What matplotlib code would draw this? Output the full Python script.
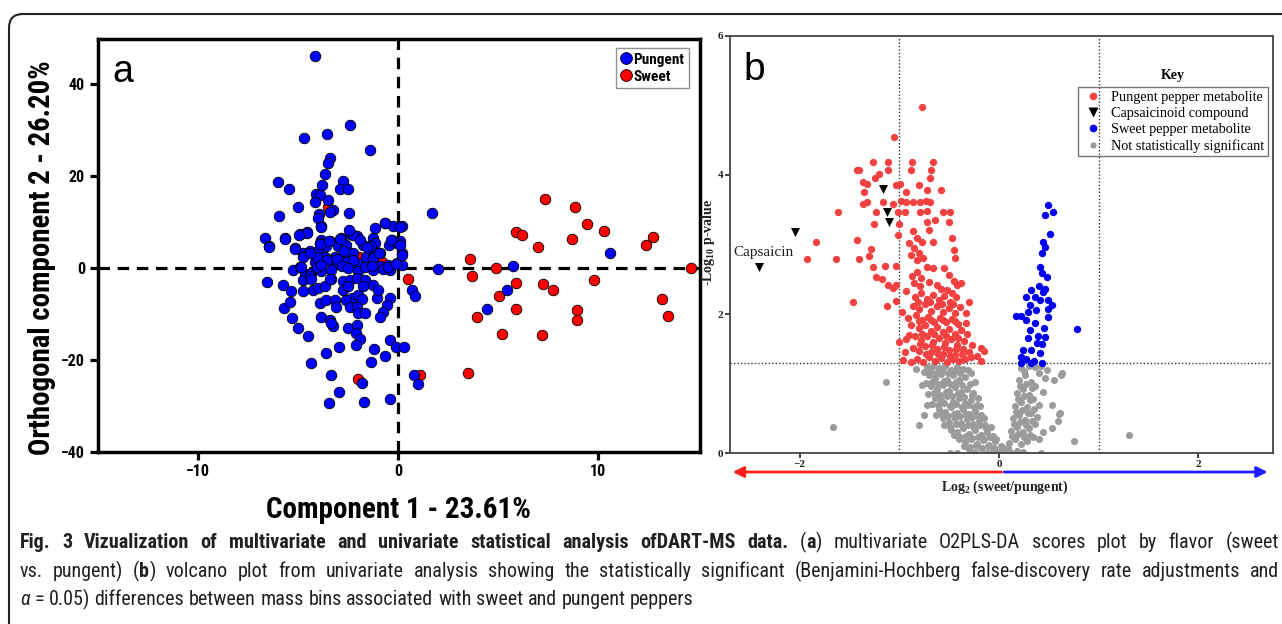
import matplotlib
matplotlib.use("Agg")
import matplotlib.pyplot as plt
from matplotlib import font_manager
from matplotlib.font_manager import FontProperties
from matplotlib.lines import Line2D
from matplotlib.patches import FancyBboxPatch
from matplotlib.transforms import IdentityTransform

# ---------------- panel a: O2PLS-DA scores ----------------
pungent_x = [-4.19, -2.43, -3.57, -4.74, -1.42, -3.43, -3.52, -3.68, -6.0, -5.47, -2.76, -2.93, -2.51,
             -3.80, -4.10, -3.90, -3.52, -4.19, -5.02, -3.26, -3.43, -5.97, -3.97, -2.48, 1.68,
             -0.67, -0.25, 0.17, -3.85, -1.17, -4.94, -4.57, -6.65, -5.69, -3.85, -3.43, -2.85, -2.43,
             -2.09, -1.25, -0.33, 0.09, -6.45, -5.19, -3.93, -3.60, -3.01, -2.60, -1.76, -1.42, -1.17,
             -0.45, -0.08, -4.77, -4.44, -4.02, -3.68, -3.18, -2.77, -2.26, -1.62, -1.34, -1.12, -0.92,
             0.17, -4.18, -3.85, -3.43, -3.01, -2.60, -2.09, -1.34, -0.92, -0.50, -0.08, 0.17, -5.28,
             -4.94, -4.69, -4.35, -3.85, -3.35, -2.00, -1.67, -1.25, -0.75, -0.42, 2.0, -4.77, -4.44,
             -3.35, -2.77, -2.43, -2.09, -1.67, -1.25, -1.75, -6.58, -5.78, -5.36, -4.77, -4.27, -4.02,
             -3.68, -2.77, -2.51, -2.34, -2.00, -1.84, -1.08, -1.00, -0.42, -3.93, -3.63, -3.18, -3.10,
             -2.60, -2.43, -2.09, -2.00, -1.67, -0.59, -0.75, -0.92, -5.74, -5.31, -3.85, -3.43, -3.26,
             -3.35, -5.02, -4.52, -2.51, -2.09, -2.13, -1.93, -0.42, -0.12, 0.29, -2.13, -2.99, -3.63,
             -1.21, -0.67, -1.38, -4.39, -3.35, -1.84, 0.80, 1.0, -2.96, -3.46, -1.72, -0.42, 0.67,
             0.84, 4.45, 5.44, 5.72, 10.56, -5.40, -4.36, -3.40, -4.09, -3.58, -3.05, -2.25, -1.29,
             -2.82, -2.53, -1.33, -0.53, -0.11, -4.89, -4.09, -3.86, -2.71, -4.78, -4.43, -3.90, -3.49,
             -2.25, -2.94, -1.91, -1.38, -0.37, 0.09, -0.99, 0.16, -1.56, -0.69, 0.09, -2.48, -4.02,
             -3.86, -4.59, -4.96, -5.69, -6.45, -5.17]
pungent_y = [46.2, 31.2, 29.1, 28.2, 25.7, 24.0, 22.9, 20.4, 18.8, 17.3, 19.0, 17.3, 17.3,
             18.0, 16.2, 15.8, 14.9, 14.3, 13.3, 12.7, 12.1, 11.3, 11.8, 12.0, 12.0,
             9.8, 9.1, 9.1, 9.1, 8.7, 7.3, 7.8, 6.5, 6.5, 6.2, 5.8, 6.5, 7.3,
             6.9, 6.5, 6.2, 5.8, 4.7, 4.4, 5.4, 4.7, 4.7, 5.1, 5.1, 4.7, 5.4,
             5.1, 5.4, 3.3, 3.6, 3.6, 2.5, 2.5, 2.2, 3.3, 2.5, 3.6, 3.3, 3.3,
             3.3, 1.4, 1.1, 1.8, 1.1, 1.4, 1.1, 0.7, 0.4, 0.7, 1.1, 0.7, -0.5,
             0.2, -1.3, -1.0, -0.7, -0.4, -0.7, 0.2, -0.4, -0.2, -0.4, -0.2, -2.6, -1.8,
             -2.4, -2.9, -2.7, -2.2, -2.6, -3.6, -4.0, -3.1, -3.6, -5.1, -5.1, -4.7, -4.4,
             -4.0, -4.7, -4.0, -6.6, -5.8, -6.8, -6.6, -4.7, -6.6, -7.6, -6.9, -6.9, -8.4,
             -6.9, -8.4, -8.4, -9.8, -9.8, -8.0, -9.5, -10.6, -8.7, -10.8, -10.7, -11.3, -12.7,
             -12.0, -13.1, -14.8, -13.1, -12.4, -14.2, -15.5, -15.6, -17.1, -17.1, -16.7, -17.1, -18.4,
             -17.7, -19.2, -20.5, -20.6, -23.3, -25.1, -23.4, -25.3, -26.9, -29.3, -29.1, -28.6, -4.7,
             -6.0, -8.9, -4.7, 0.4, 3.3, -7.4, -2.3, -2.3, 2.4, 1.7, 2.0, 1.8, 2.2,
             0.4, -0.1, 0.4, 0.2, 0.9, 0.2, 0.2, 0.7, 3.7, 2.5, 3.3, 5.2, 5.9,
             7.1, 6.3, 6.0, 4.7, 6.0, 5.1, 3.3, 2.9, 4.6, 9.7, 8.9, 8.2, 10.8,
             8.9, 7.7, 7.1, 6.3, 4.6, 4.2]
sweet_x = [14.63, 3.56, 3.67, 4.87, 5.03, 3.95, 5.17, 3.49, 5.86, 6.2, 5.9, 5.9, 6.98, 7.32, 7.23,
           7.74, 7.16, 8.84, 9.41, 8.68, 10.29, 9.76, 8.91, 8.91, 12.38, 12.74, 13.2, 13.48, 0.46,
           1.1, -2.02, -1.95, -3.54, -0.83]
sweet_y = [0.0, 2.0, -1.7, 0.0, -6.1, -10.7, -14.3, -22.8, 7.9, 7.1, -3.3, -8.9, 4.6, 15.1, -3.4,
           -4.7, -14.5, 13.2, 9.5, 6.4, 8.0, -2.7, -9.1, -11.4, 4.9, 6.8, -6.7, -10.4, -2.5,
           -23.3, -24.1, 2.4, 13.3, 1.3]

# ---------------- panel b: volcano plot ----------------
pungent_met_x = [-0.775, -1.05, -1.26, -1.11, -0.876, -0.663, -1.43, -1.41, -1.20, -1.11, -0.88, -0.68,
                 -0.69, -1.24, -1.37, -1.32, -1.036, -0.995, -0.80, -1.36, -0.93, -0.72, -0.58, -1.37,
                 -1.32, -1.16, -1.06, -0.98, -0.93, -0.86, -0.79, -0.73, -0.69, -1.23, -1.01, -0.94,
                 -0.79, -0.72, -0.56, -0.49, -1.62, -1.25, -1.00, -0.72, -0.64, -0.70, -0.50, -1.43,
                 -1.84, -1.01, -0.86, -0.82, -0.77, -0.66, -0.47,
                 -1.64, -1.41, -1.28, -1.30, -1.26, -1.14, -1.03, -1.23, -1.17, -1.11, -1.06, -1.03,
                 -0.93, -1.47, -1.12, -1.03, -0.97, -1.00, -0.93, -0.96, -1.93,
                 -0.90, -0.85, -0.80, -0.76, -0.88, -0.82, -0.45, -0.44, -0.72, -0.66, -0.82, -0.78,
                 -0.70, -0.55, -0.50, -0.45, -0.42, -0.38, -0.52, -0.47, -0.30, -0.33, -0.33, -0.18,
                 -0.15, -0.18, -0.35, -0.28, -0.87, -0.85, -0.79, -0.62, -0.58,
                 -0.84, -0.78, -0.72, -0.66, -0.60, -0.55, -0.49, -0.43,
                 -0.86, -0.80, -0.74, -0.68, -0.62, -0.56, -0.50, -0.44, -0.39,
                 -0.83, -0.77, -0.71, -0.65, -0.59, -0.53, -0.47, -0.41,
                 -0.88, -0.80, -0.74, -0.68, -0.62, -0.56, -0.50, -0.44, -0.38,
                 -0.84, -0.78, -0.72, -0.66, -0.60, -0.54, -0.48, -0.42, -0.36,
                 -0.86, -0.80, -0.74, -0.68, -0.62, -0.56, -0.50, -0.44, -0.30,
                 -0.82, -0.76, -0.70, -0.64, -0.58, -0.52, -0.46, -0.40, -0.34, -0.22, -0.88,
                 -0.81, -0.69, -0.57, -0.46, -0.80, -0.68, -0.56, -0.44, -0.77, -0.65, -0.53, -0.41,
                 -0.79, -0.67, -0.55, -0.43, -0.73, -0.61, -0.49, -0.37, -0.94, -0.90, -0.91, -0.27, -0.32]
pungent_met_y = [4.97, 4.55, 4.18, 4.18, 4.18, 4.18, 4.07, 4.07, 4.02, 4.07, 4.07, 4.07,
                 3.96, 3.96, 3.90, 3.87, 3.85, 3.87, 3.85, 3.76, 3.75, 3.78, 3.78, 3.58,
                 3.61, 3.61, 3.58, 3.62, 3.61, 3.61, 3.61, 3.62, 3.61, 3.46, 3.46, 3.46,
                 3.47, 3.48, 3.46, 3.46, 3.47, 3.29, 3.29, 3.33, 3.35, 3.21, 3.33, 3.07,
                 3.04, 3.14, 3.19, 3.09, 3.04, 3.04, 3.09,
                 2.79, 2.79, 2.93, 2.84, 2.67, 2.69, 2.69, 2.54, 2.51, 2.42, 2.37, 2.42,
                 2.33, 2.18, 2.11, 2.19, 2.03, 1.60, 1.64, 1.34, 2.79,
                 3.02, 2.95, 2.88, 2.80, 2.85, 2.78, 2.92, 2.80, 2.68, 2.66, 2.60, 2.52,
                 2.46, 2.66, 2.56, 2.48, 2.42, 2.44, 2.34, 2.30, 2.18, 2.02, 1.87, 1.51,
                 1.47, 1.33, 1.61, 1.39, 2.55, 2.45, 2.40, 2.42, 2.36,
                 2.25, 2.30, 2.22, 2.28, 2.20, 2.26, 2.18, 2.24,
                 2.12, 2.08, 2.14, 2.05, 2.11, 2.03, 2.09, 2.01, 2.10,
                 1.98, 1.92, 1.96, 1.89, 1.95, 1.88, 1.93, 1.86,
                 1.85, 1.80, 1.84, 1.76, 1.81, 1.74, 1.79, 1.72, 1.77,
                 1.68, 1.63, 1.69, 1.60, 1.66, 1.58, 1.64, 1.56, 1.50,
                 1.52, 1.47, 1.54, 1.45, 1.50, 1.43, 1.49, 1.41, 1.45,
                 1.36, 1.31, 1.38, 1.32, 1.37, 1.31, 1.35, 1.32, 1.36, 1.40, 1.31,
                 2.18, 2.17, 2.14, 2.15, 1.90, 1.92, 1.91, 1.90, 1.72, 1.71, 1.69, 1.66,
                 1.57, 1.55, 1.53, 1.50, 1.43, 1.42, 1.40, 1.42, 1.45, 1.70, 1.95, 1.55, 1.72]
capsaicinoid_x = [-1.165, -1.12, -1.10, -2.05, -2.41]
capsaicinoid_y = [3.80, 3.47, 3.32, 3.18, 2.67]
sweet_met_x = [0.494, 0.46, 0.545, 0.51, 0.44, 0.46, 0.43, 0.41, 0.43, 0.48, 0.325, 0.46, 0.27, 0.36,
               0.41, 0.49, 0.53, 0.31, 0.376, 0.29, 0.17, 0.22, 0.49, 0.78, 0.36, 0.31, 0.39, 0.46,
               0.29, 0.38, 0.43, 0.24, 0.325, 0.41, 0.22, 0.27, 0.22, 0.325, 0.43, 0.49, 0.44,
               0.35, 0.27, 0.40, 0.45]
sweet_met_y = [3.57, 3.42, 3.46, 3.15, 3.04, 2.97, 2.88, 2.67, 2.59, 2.53, 2.35, 2.36, 2.25, 2.24,
               2.20, 2.20, 2.13, 2.13, 2.06, 2.03, 1.97, 1.97, 1.96, 1.78, 1.87, 1.77, 1.68, 1.67,
               1.65, 1.58, 1.57, 1.49, 1.48, 1.44, 1.39, 1.36, 1.30, 1.30, 1.30, 2.08, 2.32,
               1.33, 1.92, 2.40, 1.80]
not_sig_x = [-1.67, 1.30, 0.75, -1.135, -0.80, -0.75, 0.63, 0.61, 0.59, -0.83, -0.72, -0.77, 0.53,
             0.60, 0.53, 0.42, -0.49, -0.42, 0.55, 0.62,
             -0.72, -0.66, -0.60, -0.54, -0.48, -0.42, -0.36,
             -0.70, -0.64, -0.58, -0.52, -0.46, -0.40, -0.34, -0.28, -0.24,
             -0.68, -0.62, -0.56, -0.50, -0.44, -0.38, -0.32, -0.26,
             -0.64, -0.58, -0.52, -0.46, -0.40, -0.34, -0.28, -0.22,
             -0.60, -0.54, -0.48, -0.42, -0.36, -0.30, -0.24, -0.18,
             -0.56, -0.50, -0.44, -0.38, -0.32, -0.26, -0.20, -0.14,
             -0.48, -0.42, -0.36, -0.30, -0.24, -0.18, -0.12, -0.06,
             -0.40, -0.34, -0.28, -0.22, -0.16, -0.10, -0.04, 0.02,
             -0.30, -0.24, -0.18, -0.12, -0.06, 0.00, 0.06, 0.12, 0.18, 0.24,
             0.10, 0.16, 0.22, 0.28, 0.34, 0.40,
             0.12, 0.18, 0.24, 0.30, 0.36, 0.44,
             0.14, 0.20, 0.26, 0.32, 0.38,
             0.16, 0.22, 0.28, 0.34, 0.40,
             0.18, 0.24, 0.30, 0.36, 0.44,
             0.20, 0.26, 0.32, 0.40, 0.46, 0.22, 0.36, 0.48,
             -0.75, -0.69, -0.63, -0.57, -0.51, -0.45, -0.39, -0.31,
             -0.73, -0.67, -0.61, -0.55, -0.49, -0.43, -0.37, -0.29,
             -0.71, -0.65, -0.59, -0.53, -0.47, -0.41, -0.35, -0.27, -0.21,
             -0.67, -0.61, -0.55, -0.49, -0.43, -0.37, -0.31, -0.25, -0.19,
             -0.63, -0.57, -0.51, -0.45, -0.39, -0.33, -0.27, -0.21, -0.15,
             -0.55, -0.49, -0.43, -0.37, -0.31, -0.25, -0.19, -0.13, -0.08,
             -0.45, -0.39, -0.33, -0.27, -0.21, -0.15, -0.09, -0.03,
             -0.35, -0.29, -0.23, -0.17, -0.11, -0.05, 0.03, 0.09,
             0.13, 0.19, 0.25, 0.31, 0.15, 0.21, 0.27, 0.33, 0.17, 0.23, 0.29, 0.35,
             0.19, 0.25, 0.31, 0.21, 0.27, 0.33, 0.25, 0.30, 0.42]
not_sig_y = [0.38, 0.26, 0.18, 1.03, 0.41, 0.55, 1.16, 0.58, 0.46, 1.21, 0.69, 0.98, 0.69,
             0.56, 0.36, 0.0, 0.0, 0.0, 1.05, 1.13,
             1.24, 1.26, 1.22, 1.25, 1.20, 1.24, 1.21,
             1.12, 1.08, 1.14, 1.06, 1.12, 1.05, 1.10, 1.15, 1.02,
             0.96, 0.92, 0.98, 0.90, 0.95, 0.88, 0.93, 0.86,
             0.80, 0.76, 0.82, 0.74, 0.79, 0.72, 0.77, 0.70,
             0.64, 0.60, 0.66, 0.58, 0.63, 0.56, 0.61, 0.55,
             0.50, 0.45, 0.51, 0.44, 0.49, 0.42, 0.47, 0.40,
             0.34, 0.30, 0.36, 0.28, 0.33, 0.26, 0.31, 0.25,
             0.20, 0.16, 0.21, 0.14, 0.19, 0.12, 0.17, 0.10,
             0.06, 0.02, 0.07, 0.01, 0.05, 0.02, 0.06, 0.01, 0.04, 0.02,
             0.15, 0.20, 0.14, 0.18, 0.24, 0.20,
             0.32, 0.38, 0.30, 0.36, 0.42, 0.30,
             0.50, 0.55, 0.48, 0.58, 0.52,
             0.68, 0.74, 0.66, 0.78, 0.70,
             0.86, 0.92, 0.84, 0.96, 0.88,
             1.05, 1.12, 1.02, 1.15, 1.08, 1.22, 1.24, 1.20,
             1.17, 1.18, 1.16, 1.19, 1.15, 1.18, 1.16, 1.19,
             1.01, 1.03, 1.00, 1.04, 0.99, 1.02, 0.98, 1.00,
             0.85, 0.87, 0.84, 0.88, 0.83, 0.86, 0.81, 0.84, 0.80,
             0.71, 0.69, 0.72, 0.68, 0.71, 0.67, 0.70, 0.66, 0.68,
             0.55, 0.57, 0.54, 0.57, 0.53, 0.56, 0.52, 0.54, 0.50,
             0.41, 0.38, 0.42, 0.39, 0.41, 0.37, 0.40, 0.36, 0.38,
             0.26, 0.23, 0.25, 0.22, 0.24, 0.21, 0.23, 0.20,
             0.11, 0.09, 0.12, 0.08, 0.10, 0.08, 0.09, 0.07,
             0.25, 0.28, 0.24, 0.27, 0.42, 0.45, 0.40, 0.46, 0.60, 0.62, 0.58, 0.64,
             0.78, 0.82, 0.76, 0.96, 1.00, 0.94, 1.18, 1.26, 1.26]

legend_b_labels = ["Pungent pepper metabolite", "Capsaicinoid compound",
                   "Sweet pepper metabolite", "Not statistically significant"]

caption_lines = [
    [("Fig. 3 Vizualization of multivariate and univariate statistical analysis ofDART-MS data.", "bold", "normal"),
     (" (", "normal", "normal"), ("a", "bold", "normal"),
     (") multivariate O2PLS-DA scores plot by flavor (sweet", "normal", "normal")],
    [("vs. pungent) (", "normal", "normal"), ("b", "bold", "normal"),
     (") volcano plot from univariate analysis showing the statistically significant (Benjamini-Hochberg false-discovery rate adjustments and", "normal", "normal")],
    [("\u03b1", "normal", "italic"),
     (" = 0.05) differences between mass bins associated with sweet and pungent peppers", "normal", "normal")],
]


def pick_font(names):
    for name in names:
        try:
            font_manager.findfont(FontProperties(family=name), fallback_to_default=False)
            return name
        except Exception:
            pass
    return names[-1]


narrow = pick_font(["Liberation Sans Narrow", "Roboto Condensed", "Open Sans Condensed", "Liberation Sans"])
serif = pick_font(["Liberation Serif", "DejaVu Serif"])

plt.rcParams["mathtext.fontset"] = "custom"
plt.rcParams["mathtext.rm"] = serif
plt.rcParams["mathtext.bf"] = serif + ":bold"

W, H = 1282, 624
fig = plt.figure(figsize=(W / 100, H / 100), dpi=100)

# outer rounded frame
frame = FancyBboxPatch((9, -30), 1310, 640, boxstyle="round,pad=0,rounding_size=14",
                       transform=IdentityTransform(), fill=False, ec="#222222", lw=1.5)
fig.patches.append(frame)

# ---------------- panel a ----------------
ax1 = fig.add_axes([97.5 / W, 1 - 451.7 / H, 602.7 / W, 412.4 / H])
ax1.axhline(0, color="black", lw=2.3, ls=(0, (3.6, 2.4)), zorder=2)
ax1.axvline(0, color="black", lw=2.3, ls=(0, (3.6, 2.4)), zorder=2)
ax1.scatter(sweet_x, sweet_y, s=58, c="#ff0000", edgecolors="black", linewidths=0.6, zorder=3, clip_on=False)
ax1.scatter(pungent_x, pungent_y, s=58, c="#0000ff", edgecolors="black", linewidths=0.6, zorder=4)
ax1.set_xlim(-15.04, 15.09)
ax1.set_ylim(-40, 49.8)
ax1.set_xticks([-10, 0, 10])
ax1.set_yticks([-40, -20, 0, 20, 40])
ax1.tick_params(direction="out", length=6, width=2.3, labelsize=11.5, pad=3)
for lbl in ax1.get_xticklabels() + ax1.get_yticklabels():
    lbl.set_fontweight("bold")
    lbl.set_family(narrow)
for sp in ax1.spines.values():
    sp.set_linewidth(2.5)
ax1.set_xlabel("Component 1 - 23.61%", fontsize=21, fontweight="bold", family=narrow, labelpad=12)
ax1.text(-0.092, 0.47, "Orthogonal component 2 - 26.20%", transform=ax1.transAxes, rotation=90,
         fontsize=20.8, fontweight="bold", family=narrow, ha="center", va="center")
ax1.text(0.024, 0.896, "a", transform=ax1.transAxes, fontsize=27, family="Liberation Sans", va="baseline")
handles_a = [Line2D([], [], ls="none", marker="o", ms=8.5, mfc="#0000ff", mec="black", mew=0.6),
             Line2D([], [], ls="none", marker="o", ms=8.5, mfc="#ff0000", mec="black", mew=0.6)]
leg_a = ax1.legend(handles_a, ["Pungent", "Sweet"], loc="upper right", bbox_to_anchor=(0.981, 0.979),
                   borderaxespad=0, fancybox=False, edgecolor="#777777", handlelength=0.7,
                   handletextpad=0.15, borderpad=0.3, labelspacing=0.2,
                   prop={"family": narrow, "weight": "bold", "size": 11})
leg_a.get_frame().set_linewidth(1.0)

# ---------------- panel b ----------------
ax2 = fig.add_axes([730 / W, 1 - 453.3 / H, 543 / W, 417.6 / H])
ax2.axvline(-1, color="#333333", lw=1.0, ls=(0, (1, 1.5)), zorder=1)
ax2.axvline(1, color="#333333", lw=1.0, ls=(0, (1, 1.5)), zorder=1)
ax2.axhline(1.30, color="#333333", lw=1.0, ls=(0, (1, 1.5)), zorder=1)
ax2.scatter(not_sig_x, not_sig_y, s=26, c="#9b9b9e", linewidths=0, zorder=2)
ax2.scatter(pungent_met_x, pungent_met_y, s=28, c="#f24141", linewidths=0, zorder=3)
ax2.scatter(sweet_met_x, sweet_met_y, s=28, c="#0000f0", linewidths=0, zorder=3)
ax2.scatter(capsaicinoid_x, capsaicinoid_y, s=42, c="black", marker="v", linewidths=0, zorder=4)
ax2.set_xlim(-2.7, 2.75)
ax2.set_ylim(0, 6)
ax2.set_xticks([-2, 0, 2])
ax2.set_yticks([0, 2, 4, 6])
ax2.tick_params(direction="out", length=3.5, width=1.2, labelsize=8, pad=1.5, colors="#222222")
for lbl in ax2.get_xticklabels() + ax2.get_yticklabels():
    lbl.set_fontweight("bold")
    lbl.set_family(serif)
for sp in ax2.spines.values():
    sp.set_linewidth(1.3)
    sp.set_color("#444444")
ax2.text(-2.36, 2.89, "Capsaicin", fontsize=11, family=serif, ha="center", va="center", color="#222222")
ax2.text(0.024, 0.894, "b", transform=ax2.transAxes, fontsize=28, family="Liberation Sans", va="baseline")
ax2.text(0.505, -0.081, r"Log$_\mathbf{2}$ (sweet/pungent)", transform=ax2.transAxes, fontsize=10,
         fontweight="bold", family=serif, ha="center", va="center", color="#222222")
ax2.text(-0.0405, 0.504, r"-Log$_\mathbf{10}$ p-value", transform=ax2.transAxes, fontsize=10,
         fontweight="bold", family=serif, ha="center", va="center", rotation=90, color="#222222")
ax2.annotate("", xy=(0.005, -0.0448), xytext=(0.5, -0.0448), xycoords="axes fraction",
             arrowprops=dict(arrowstyle="-|>", color="#ff1e1e", lw=2, mutation_scale=16, shrinkA=0, shrinkB=0),
             annotation_clip=False)
ax2.annotate("", xy=(0.99, -0.0448), xytext=(0.505, -0.0448), xycoords="axes fraction",
             arrowprops=dict(arrowstyle="-|>", color="#1e1eff", lw=2, mutation_scale=16, shrinkA=0, shrinkB=0),
             annotation_clip=False)
handles_b = [Line2D([], [], ls="none", marker="o", ms=5.5, mfc="#f24141", mec="none"),
             Line2D([], [], ls="none", marker="v", ms=6.5, mfc="black", mec="none"),
             Line2D([], [], ls="none", marker="o", ms=5.5, mfc="#0000f0", mec="none"),
             Line2D([], [], ls="none", marker="o", ms=4.5, mfc="#9b9b9e", mec="none")]
leg_b = ax2.legend(handles_b, legend_b_labels, loc="upper right", bbox_to_anchor=(0.991, 0.877),
                   borderaxespad=0, fancybox=False, edgecolor="#555555",
                   handlelength=1.6, handletextpad=0.5, borderpad=0.25, labelspacing=0.22,
                   prop={"family": serif, "size": 10.3})
leg_b.get_frame().set_linewidth(1.0)
leg_b.get_frame().set_facecolor("none")
ax2.text(0.816, 0.9035, "Key", transform=ax2.transAxes, fontsize=10, fontweight="bold",
         family=serif, ha="center", va="center")

# ---------------- caption ----------------
renderer = fig.canvas.get_renderer()
cap_fams = [narrow, "DejaVu Sans"]


def seg_width(txt, weight, style, size):
    t1 = fig.text(0, 0, "|" + txt + "|", fontsize=size, fontweight=weight, fontstyle=style, family=cap_fams)
    t2 = fig.text(0, 0, "||", fontsize=size, fontweight=weight, fontstyle=style, family=cap_fams)
    w = t1.get_window_extent(renderer).width - t2.get_window_extent(renderer).width
    t1.remove()
    t2.remove()
    return w


def split_words(line):
    words = [[]]
    for s, w, st in line:
        for i, part in enumerate(s.split(" ")):
            if i > 0:
                words.append([])
            if part:
                words[-1].append((part, w, st))
    return [wd for wd in words if wd]


size = 14.5
x0, x1 = 20, 1279
space = seg_width(" ", "normal", "normal", size)
baselines = [548, 577, 605]
for k, (line, yb) in enumerate(zip(caption_lines, baselines)):
    words = split_words(line)
    wlen = [sum(seg_width(p, w, st, size) for p, w, st in wd) for wd in words]
    gap = space
    if k < 2:
        gap = max(space, (x1 - x0 - sum(wlen)) / (len(words) - 1))
    x = x0
    for wd, wl in zip(words, wlen):
        xx = x
        for p, w, st in wd:
            fig.text(xx / W, 1 - yb / H, p, fontsize=size, fontweight=w, fontstyle=st,
                     family=cap_fams, va="baseline", ha="left", color="#231f20")
            xx += seg_width(p, w, st, size)
        x += wl + gap

fig.savefig("out.png", dpi=100)
